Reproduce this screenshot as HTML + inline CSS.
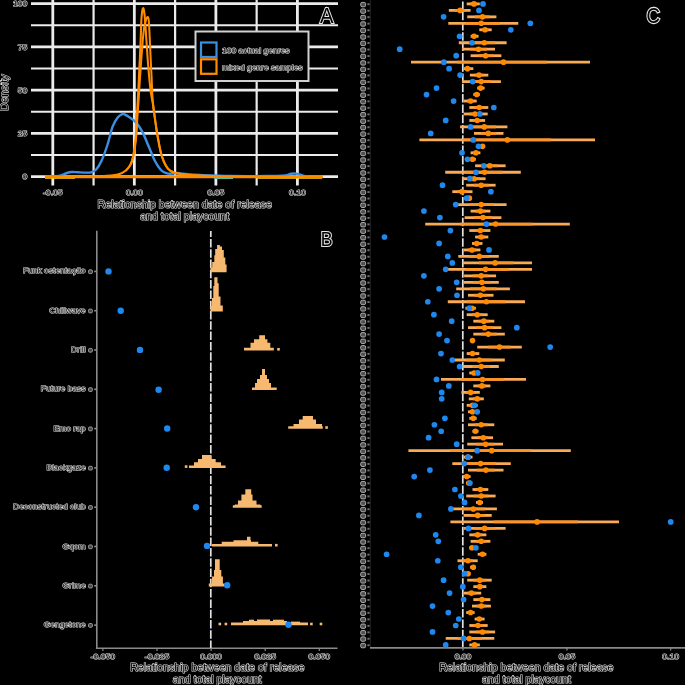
<!DOCTYPE html>
<html><head><meta charset="utf-8"><title>figure</title>
<style>
html,body{margin:0;padding:0;background:#000;width:685px;height:685px;overflow:hidden}
svg{display:block}
text{font-family:"Liberation Sans",sans-serif}
</style></head>
<body>
<svg width="685" height="685" viewBox="0 0 685 685">
<defs><filter id="gs" filterUnits="userSpaceOnUse" x="0" y="0" width="685" height="685"><feColorMatrix type="saturate" values="0"/></filter></defs>
<rect width="685" height="685" fill="#000"/>
<line x1="31" y1="3.60" x2="338" y2="3.60" stroke="#ebebeb" stroke-width="2.6"/>
<line x1="31" y1="25.23" x2="338" y2="25.23" stroke="#ebebeb" stroke-width="2.0"/>
<line x1="31" y1="46.85" x2="338" y2="46.85" stroke="#ebebeb" stroke-width="2.6"/>
<line x1="31" y1="68.47" x2="338" y2="68.47" stroke="#ebebeb" stroke-width="2.0"/>
<line x1="31" y1="90.10" x2="338" y2="90.10" stroke="#ebebeb" stroke-width="2.6"/>
<line x1="31" y1="111.72" x2="338" y2="111.72" stroke="#ebebeb" stroke-width="2.0"/>
<line x1="31" y1="133.35" x2="338" y2="133.35" stroke="#ebebeb" stroke-width="2.6"/>
<line x1="31" y1="154.97" x2="338" y2="154.97" stroke="#ebebeb" stroke-width="2.0"/>
<line x1="31" y1="176.60" x2="338" y2="176.60" stroke="#ebebeb" stroke-width="2.6"/>
<line x1="52.80" y1="-6" x2="52.80" y2="185.5" stroke="#ebebeb" stroke-width="2.8"/>
<line x1="93.57" y1="-6" x2="93.57" y2="185.5" stroke="#ebebeb" stroke-width="2.2"/>
<line x1="134.34" y1="-6" x2="134.34" y2="185.5" stroke="#ebebeb" stroke-width="2.8"/>
<line x1="175.11" y1="-6" x2="175.11" y2="185.5" stroke="#ebebeb" stroke-width="2.2"/>
<line x1="215.88" y1="-6" x2="215.88" y2="185.5" stroke="#ebebeb" stroke-width="2.8"/>
<line x1="256.65" y1="-6" x2="256.65" y2="185.5" stroke="#ebebeb" stroke-width="2.2"/>
<line x1="297.42" y1="-6" x2="297.42" y2="185.5" stroke="#ebebeb" stroke-width="2.8"/>
<path d="M45,178 L75,178 M258,178 L322,178" stroke="#f5d400" stroke-width="1.4" fill="none"/>
<path d="M214,178.3 L233,178.3" stroke="#20c8e0" stroke-width="1.4" fill="none"/>
<path d="M216,176.5 L228,176.5" stroke="#e03020" stroke-width="2.4" fill="none"/>
<path d="M45.2,176.9 L322.8,176.9" stroke="#ff8c00" stroke-width="2.6" fill="none"/>
<path d="M45.0,176.6 C46.8,176.5 53.2,176.5 56.0,176.2 C58.8,175.9 60.2,175.5 62.0,175.0 C63.8,174.5 65.4,173.5 67.0,173.0 C68.6,172.5 69.9,172.1 71.7,172.0 C73.5,171.9 75.8,172.2 78.0,172.3 C80.2,172.4 82.8,172.6 85.0,172.6 C87.2,172.6 89.1,172.8 91.0,172.3 C92.9,171.8 94.5,171.3 96.2,169.5 C97.9,167.7 99.4,165.4 101.3,161.3 C103.2,157.2 105.5,150.8 107.4,145.0 C109.3,139.2 110.9,131.2 112.6,126.6 C114.3,122.0 116.0,119.5 117.7,117.4 C119.4,115.3 121.4,114.5 122.5,114.0 C123.6,113.5 122.8,113.5 124.1,114.1 C125.4,114.7 128.1,116.3 130.2,117.8 C132.2,119.3 134.3,120.5 136.4,122.9 C138.5,125.3 140.4,128.2 142.5,132.1 C144.6,136.0 146.6,141.6 148.7,146.4 C150.8,151.2 152.8,156.9 154.8,160.8 C156.8,164.7 158.9,167.9 160.9,170.0 C162.9,172.1 165.2,172.8 167.1,173.4 C168.9,174.0 170.3,173.7 172.0,173.6 C173.7,173.5 175.1,172.9 177.3,173.0 C179.5,173.1 181.2,173.7 185.0,174.0 C188.8,174.3 192.5,174.7 200.0,175.0 C207.5,175.3 218.3,175.8 230.0,176.0 C241.7,176.2 260.8,176.1 270.0,176.0 C279.2,175.9 281.5,175.9 285.0,175.5 C288.5,175.1 289.2,174.1 291.0,173.8 C292.8,173.5 294.3,173.4 296.0,173.6 C297.7,173.8 299.3,174.4 301.0,174.8 C302.7,175.2 302.5,175.9 306.0,176.2 C309.5,176.5 319.3,176.5 322.0,176.6" stroke="#3d8fe0" stroke-width="2.4" fill="none" stroke-linejoin="round"/>
<path d="M125.8,170.8 C126.7,169.6 129.9,166.7 131.3,163.4 C132.7,160.1 133.6,155.7 134.4,151.1 C135.2,146.5 135.8,141.6 136.3,136.0 C136.8,130.4 137.0,123.8 137.4,117.8 C137.8,111.8 138.2,106.6 138.6,100.0 C139.0,93.4 139.5,85.0 140.0,78.0 C140.5,71.0 140.9,64.3 141.4,58.0 C141.9,51.7 142.4,45.0 142.8,40.0 C143.2,35.0 143.7,31.0 144.1,28.0 C144.5,25.0 144.9,23.6 145.3,22.0 C145.7,20.4 146.2,19.4 146.5,18.6 C146.8,17.8 147.1,17.4 147.4,17.2 C147.7,17.0 147.9,16.7 148.1,17.3 C148.3,17.9 148.6,18.1 148.8,21.0 C149.1,23.9 149.3,29.3 149.6,35.0 C149.9,40.7 150.2,48.3 150.5,55.0 C150.8,61.7 151.1,67.5 151.5,75.0 C151.9,82.5 152.1,92.9 152.7,100.0 C153.2,107.1 153.9,111.4 154.8,117.8 C155.7,124.2 156.7,131.7 157.9,138.2 C159.1,144.7 160.3,151.6 162.0,156.7 C163.7,161.8 165.9,166.2 168.1,168.9 C170.3,171.6 171.7,172.0 175.3,173.0 C178.9,174.0 182.2,174.4 189.6,175.0 C197.0,175.6 214.9,176.1 220.0,176.3" stroke="#ff8c00" stroke-width="2.0" fill="none" stroke-linejoin="round"/>
<path d="M45.2,176.6 C51.0,176.6 70.7,176.6 80.0,176.5 C89.3,176.4 95.0,176.5 101.3,176.2 C107.6,175.9 113.6,175.5 117.7,174.6 C121.8,173.7 123.6,172.4 125.8,170.5 C128.0,168.6 129.6,166.6 131.0,163.4 C132.4,160.2 133.2,155.7 134.0,151.1 C134.8,146.5 135.3,141.6 135.8,136.0 C136.3,130.4 136.5,123.8 136.8,117.8 C137.1,111.8 137.5,106.6 137.8,100.0 C138.2,93.4 138.6,84.9 138.9,78.0 C139.2,71.1 139.6,65.4 139.9,58.4 C140.2,51.4 140.5,42.7 140.8,36.0 C141.1,29.3 141.2,22.2 141.5,18.0 C141.8,13.8 142.1,12.1 142.3,10.5 C142.6,8.9 142.7,8.3 143.0,8.2 C143.3,8.1 143.6,8.7 143.9,10.0 C144.2,11.3 144.4,13.5 144.7,16.0 C144.9,18.5 145.1,20.8 145.4,24.8 C145.7,28.8 146.0,34.5 146.4,40.0 C146.8,45.5 147.2,52.2 147.6,58.0 C148.0,63.8 148.5,69.3 149.0,75.0 C149.5,80.7 150.2,87.2 150.8,92.0 C151.5,96.8 152.2,99.5 152.9,104.0 C153.6,108.5 154.2,113.3 155.0,119.0 C155.8,124.7 156.8,131.9 158.0,138.2 C159.2,144.5 160.3,151.6 162.0,156.7 C163.7,161.8 165.9,166.2 168.1,168.9 C170.3,171.6 171.7,172.0 175.3,173.0 C178.9,174.0 182.2,174.4 189.6,175.0 C197.0,175.6 197.8,176.0 220.0,176.3 C242.2,176.6 305.7,176.6 322.8,176.6" stroke="#ff8c00" stroke-width="2.1" fill="none" stroke-linejoin="round"/>
<rect x="195.5" y="31.5" width="113" height="49.5" fill="#000" stroke="#d0d0d0" stroke-width="2"/>
<rect x="201" y="42.5" width="15.5" height="14.5" fill="#000" stroke="#3d8fe0" stroke-width="2.2"/>
<rect x="201" y="59.3" width="15.5" height="14.5" fill="#000" stroke="#ff8c00" stroke-width="2.2"/>
<line x1="96.8" y1="230.8" x2="96.8" y2="648.8" stroke="#8a8a8a" stroke-width="1.6"/>
<line x1="96" y1="648.2" x2="337.5" y2="648.2" stroke="#8a8a8a" stroke-width="1.6"/>
<line x1="210.8" y1="231" x2="210.8" y2="648" stroke="#e0e0e0" stroke-width="1.7" stroke-dasharray="8.5 1.8" stroke-dashoffset="2.4"/>
<rect x="88.5" y="269.8" width="3.9" height="3.8" rx="1.2" fill="#484848" stroke="#b0b0b0" stroke-width="0.8"/>
<line x1="94.2" y1="271.4" x2="96.8" y2="271.4" stroke="#8a8a8a" stroke-width="1.6"/>
<rect x="88.5" y="309.1" width="3.9" height="3.8" rx="1.2" fill="#484848" stroke="#b0b0b0" stroke-width="0.8"/>
<line x1="94.2" y1="310.7" x2="96.8" y2="310.7" stroke="#8a8a8a" stroke-width="1.6"/>
<rect x="88.5" y="348.4" width="3.9" height="3.8" rx="1.2" fill="#484848" stroke="#b0b0b0" stroke-width="0.8"/>
<line x1="94.2" y1="350.0" x2="96.8" y2="350.0" stroke="#8a8a8a" stroke-width="1.6"/>
<rect x="88.5" y="387.7" width="3.9" height="3.8" rx="1.2" fill="#484848" stroke="#b0b0b0" stroke-width="0.8"/>
<line x1="94.2" y1="389.3" x2="96.8" y2="389.3" stroke="#8a8a8a" stroke-width="1.6"/>
<rect x="88.5" y="427.0" width="3.9" height="3.8" rx="1.2" fill="#484848" stroke="#b0b0b0" stroke-width="0.8"/>
<line x1="94.2" y1="428.6" x2="96.8" y2="428.6" stroke="#8a8a8a" stroke-width="1.6"/>
<rect x="88.5" y="466.3" width="3.9" height="3.8" rx="1.2" fill="#484848" stroke="#b0b0b0" stroke-width="0.8"/>
<line x1="94.2" y1="467.9" x2="96.8" y2="467.9" stroke="#8a8a8a" stroke-width="1.6"/>
<rect x="88.5" y="505.6" width="3.9" height="3.8" rx="1.2" fill="#484848" stroke="#b0b0b0" stroke-width="0.8"/>
<line x1="94.2" y1="507.2" x2="96.8" y2="507.2" stroke="#8a8a8a" stroke-width="1.6"/>
<rect x="88.5" y="544.9" width="3.9" height="3.8" rx="1.2" fill="#484848" stroke="#b0b0b0" stroke-width="0.8"/>
<line x1="94.2" y1="546.5" x2="96.8" y2="546.5" stroke="#8a8a8a" stroke-width="1.6"/>
<rect x="88.5" y="584.2" width="3.9" height="3.8" rx="1.2" fill="#484848" stroke="#b0b0b0" stroke-width="0.8"/>
<line x1="94.2" y1="585.8" x2="96.8" y2="585.8" stroke="#8a8a8a" stroke-width="1.6"/>
<rect x="88.5" y="623.5" width="3.9" height="3.8" rx="1.2" fill="#484848" stroke="#b0b0b0" stroke-width="0.8"/>
<line x1="94.2" y1="625.1" x2="96.8" y2="625.1" stroke="#8a8a8a" stroke-width="1.6"/>
<line x1="102.9" y1="648.2" x2="102.9" y2="651" stroke="#8a8a8a" stroke-width="1.2"/>
<line x1="157.0" y1="648.2" x2="157.0" y2="651" stroke="#8a8a8a" stroke-width="1.2"/>
<line x1="211.1" y1="648.2" x2="211.1" y2="651" stroke="#8a8a8a" stroke-width="1.2"/>
<line x1="265.2" y1="648.2" x2="265.2" y2="651" stroke="#8a8a8a" stroke-width="1.2"/>
<line x1="319.3" y1="648.2" x2="319.3" y2="651" stroke="#8a8a8a" stroke-width="1.2"/>
<polygon points="210.5,272.3 210.5,267.6 212.2,267.6 212.2,264.5 212.2,264.5 212.2,262.0 214.3,262.0 214.3,257.4 214.3,257.4 214.3,255.3 215.2,255.3 215.2,250.0 215.2,250.0 215.2,248.9 217.1,248.9 217.1,246.4 217.1,246.4 217.1,245.1 219.9,245.1 219.9,246.4 222.0,246.4 222.0,248.9 222.0,248.9 222.0,250.0 223.8,250.0 223.8,255.3 223.8,255.3 223.8,257.4 225.3,257.4 225.3,262.0 225.3,262.0 225.3,264.5 226.6,264.5 226.6,267.6 226.6,267.6 226.6,272.3" fill="#f7b870"/>
<polygon points="210.4,311.6 210.4,306.0 212.0,306.0 212.0,305.4 212.0,305.4 212.0,298.1 213.3,298.1 213.3,296.6 213.3,296.6 213.3,286.1 214.3,286.1 214.3,283.2 214.3,283.2 214.3,277.3 217.5,277.3 217.5,283.2 218.7,283.2 218.7,286.1 218.7,286.1 218.7,296.6 220.5,296.6 220.5,298.1 220.5,298.1 220.5,305.4 222.8,305.4 222.8,306.0 222.8,306.0 222.8,311.6" fill="#f7b870"/>
<polygon points="244.0,350.6 244.0,347.8 250.5,347.8 250.5,342.8 254.0,342.8 254.0,339.3 259.2,339.3 259.2,335.2 265.0,335.2 265.0,339.3 267.4,339.3 267.4,342.8 270.3,342.8 270.3,347.8 273.8,347.8 273.8,350.6" fill="#f7b870"/>
<polygon points="252.0,389.9 252.0,387.5 255.0,387.5 255.0,383.1 257.0,383.1 257.0,379.0 260.0,379.0 260.0,374.9 262.0,374.9 262.0,369.1 265.0,369.1 265.0,374.9 267.0,374.9 267.0,379.0 269.0,379.0 269.0,383.1 271.0,383.1 271.0,387.5 276.7,387.5 276.7,389.9" fill="#f7b870"/>
<polygon points="288.2,428.8 288.2,426.2 293.5,426.2 293.5,424.0 299.0,424.0 299.0,419.4 302.7,419.4 302.7,416.0 313.0,416.0 313.0,419.4 316.0,419.4 316.0,424.0 322.0,424.0 322.0,426.2 322.8,426.2 322.8,428.8" fill="#f7b870"/>
<polygon points="189.0,467.9 189.0,465.4 194.0,465.4 194.0,462.3 198.0,462.3 198.0,459.0 202.0,459.0 202.0,455.1 211.0,455.1 211.0,459.0 215.7,459.0 215.7,462.3 221.0,462.3 221.0,465.4 225.6,465.4 225.6,467.9" fill="#f7b870"/>
<polygon points="232.8,507.7 232.8,505.2 234.8,505.2 234.8,504.4 238.0,504.4 238.0,500.4 241.4,500.4 241.4,494.5 245.3,494.5 245.3,489.3 251.2,489.3 251.2,494.5 252.5,494.5 252.5,500.4 256.5,500.4 256.5,504.4 260.4,504.4 260.4,505.2 261.7,505.2 261.7,507.7" fill="#f7b870"/>
<polygon points="211.8,546.4 211.8,543.9 221.7,543.9 221.7,541.8 233.5,541.8 233.5,540.2 247.0,540.2 247.0,536.8 250.5,536.8 250.5,540.2 251.0,540.2 251.0,541.8 258.3,541.8 258.3,543.9 272.0,543.9 272.0,546.4" fill="#f7b870"/>
<polygon points="208.8,586.4 208.8,583.5 212.0,583.5 212.0,576.5 214.0,576.5 214.0,570.0 215.0,570.0 215.0,559.2 219.7,559.2 219.7,570.0 221.3,570.0 221.3,576.5 222.9,576.5 222.9,583.5 224.6,583.5 224.6,586.4" fill="#f7b870"/>
<polygon points="231.0,625.2 231.0,622.6 308.0,622.6 308.0,625.2" fill="#f7b870"/>
<rect x="243" y="621.0" width="44" height="2.0" fill="#f7b870"/>
<rect x="249" y="619.7" width="5" height="1.7999999999999545" fill="#f7b870"/>
<rect x="257" y="619.5" width="13" height="2.0" fill="#f7b870"/>
<rect x="273" y="619.7" width="11" height="1.7999999999999545" fill="#f7b870"/>
<rect x="291" y="621.6" width="9" height="1.3999999999999773" fill="#f7b870"/>
<rect x="325.3" y="426.2" width="2.6" height="2.6" fill="#f7b870"/>
<rect x="184.8" y="465.3" width="2.6" height="2.6" fill="#f7b870"/>
<rect x="275.0" y="543.9" width="2.6" height="2.6" fill="#f7b870"/>
<rect x="218.5" y="622.7" width="2.6" height="2.6" fill="#f7b870"/>
<rect x="224.6" y="622.7" width="2.6" height="2.6" fill="#f7b870"/>
<rect x="310.1" y="622.7" width="2.6" height="2.6" fill="#f7b870"/>
<rect x="319.7" y="622.7" width="2.6" height="2.6" fill="#f7b870"/>
<rect x="277.2" y="348.0" width="2.6" height="2.6" fill="#f7b870"/>
<circle cx="108.5" cy="271.4" r="3.2" fill="#1f88ee"/>
<circle cx="120.7" cy="310.8" r="3.2" fill="#1f88ee"/>
<circle cx="140" cy="349.9" r="3.2" fill="#1f88ee"/>
<circle cx="158.6" cy="389.7" r="3.2" fill="#1f88ee"/>
<circle cx="167.2" cy="428.5" r="3.2" fill="#1f88ee"/>
<circle cx="166.7" cy="467.7" r="3.2" fill="#1f88ee"/>
<circle cx="196" cy="507.3" r="3.2" fill="#1f88ee"/>
<circle cx="207" cy="545.9" r="3.2" fill="#1f88ee"/>
<circle cx="227.2" cy="585.3" r="3.2" fill="#1f88ee"/>
<circle cx="288.5" cy="624.8" r="3.2" fill="#1f88ee"/>
<line x1="370.3" y1="-2" x2="370.3" y2="648.5" stroke="#262626" stroke-width="1"/>
<line x1="370" y1="647.8" x2="685" y2="647.8" stroke="#8a8a8a" stroke-width="1.8"/>
<line x1="462.8" y1="-2" x2="462.8" y2="647" stroke="#e0e0e0" stroke-width="1.7" stroke-dasharray="8.5 1.8" stroke-dashoffset="6.9"/>
<rect x="360.7" y="2.4" width="4.9" height="4.4" rx="1.4" fill="#505050" stroke="#b8b8b8" stroke-width="0.9"/>
<rect x="367.4" y="3.3" width="2.2" height="1.9" fill="#707070"/>
<rect x="360.7" y="8.9" width="4.9" height="4.4" rx="1.4" fill="#505050" stroke="#b8b8b8" stroke-width="0.9"/>
<rect x="367.4" y="9.8" width="2.2" height="1.9" fill="#707070"/>
<rect x="360.7" y="15.3" width="4.9" height="4.4" rx="1.4" fill="#505050" stroke="#b8b8b8" stroke-width="0.9"/>
<rect x="367.4" y="16.2" width="2.2" height="1.9" fill="#707070"/>
<rect x="360.7" y="21.8" width="4.9" height="4.4" rx="1.4" fill="#505050" stroke="#b8b8b8" stroke-width="0.9"/>
<rect x="367.4" y="22.7" width="2.2" height="1.9" fill="#707070"/>
<rect x="360.7" y="28.3" width="4.9" height="4.4" rx="1.4" fill="#505050" stroke="#b8b8b8" stroke-width="0.9"/>
<rect x="367.4" y="29.2" width="2.2" height="1.9" fill="#707070"/>
<rect x="360.7" y="34.8" width="4.9" height="4.4" rx="1.4" fill="#505050" stroke="#b8b8b8" stroke-width="0.9"/>
<rect x="367.4" y="35.7" width="2.2" height="1.9" fill="#707070"/>
<rect x="360.7" y="41.2" width="4.9" height="4.4" rx="1.4" fill="#505050" stroke="#b8b8b8" stroke-width="0.9"/>
<rect x="367.4" y="42.1" width="2.2" height="1.9" fill="#707070"/>
<rect x="360.7" y="47.7" width="4.9" height="4.4" rx="1.4" fill="#505050" stroke="#b8b8b8" stroke-width="0.9"/>
<rect x="367.4" y="48.6" width="2.2" height="1.9" fill="#707070"/>
<rect x="360.7" y="54.2" width="4.9" height="4.4" rx="1.4" fill="#505050" stroke="#b8b8b8" stroke-width="0.9"/>
<rect x="367.4" y="55.1" width="2.2" height="1.9" fill="#707070"/>
<rect x="360.7" y="60.7" width="4.9" height="4.4" rx="1.4" fill="#505050" stroke="#b8b8b8" stroke-width="0.9"/>
<rect x="367.4" y="61.6" width="2.2" height="1.9" fill="#707070"/>
<rect x="360.7" y="67.2" width="4.9" height="4.4" rx="1.4" fill="#505050" stroke="#b8b8b8" stroke-width="0.9"/>
<rect x="367.4" y="68.1" width="2.2" height="1.9" fill="#707070"/>
<rect x="360.7" y="73.6" width="4.9" height="4.4" rx="1.4" fill="#505050" stroke="#b8b8b8" stroke-width="0.9"/>
<rect x="367.4" y="74.5" width="2.2" height="1.9" fill="#707070"/>
<rect x="360.7" y="80.1" width="4.9" height="4.4" rx="1.4" fill="#505050" stroke="#b8b8b8" stroke-width="0.9"/>
<rect x="367.4" y="81.0" width="2.2" height="1.9" fill="#707070"/>
<rect x="360.7" y="86.6" width="4.9" height="4.4" rx="1.4" fill="#505050" stroke="#b8b8b8" stroke-width="0.9"/>
<rect x="367.4" y="87.5" width="2.2" height="1.9" fill="#707070"/>
<rect x="360.7" y="93.0" width="4.9" height="4.4" rx="1.4" fill="#505050" stroke="#b8b8b8" stroke-width="0.9"/>
<rect x="367.4" y="94.0" width="2.2" height="1.9" fill="#707070"/>
<rect x="360.7" y="99.5" width="4.9" height="4.4" rx="1.4" fill="#505050" stroke="#b8b8b8" stroke-width="0.9"/>
<rect x="367.4" y="100.4" width="2.2" height="1.9" fill="#707070"/>
<rect x="360.7" y="106.0" width="4.9" height="4.4" rx="1.4" fill="#505050" stroke="#b8b8b8" stroke-width="0.9"/>
<rect x="367.4" y="106.9" width="2.2" height="1.9" fill="#707070"/>
<rect x="360.7" y="112.5" width="4.9" height="4.4" rx="1.4" fill="#505050" stroke="#b8b8b8" stroke-width="0.9"/>
<rect x="367.4" y="113.4" width="2.2" height="1.9" fill="#707070"/>
<rect x="360.7" y="119.0" width="4.9" height="4.4" rx="1.4" fill="#505050" stroke="#b8b8b8" stroke-width="0.9"/>
<rect x="367.4" y="119.9" width="2.2" height="1.9" fill="#707070"/>
<rect x="360.7" y="125.4" width="4.9" height="4.4" rx="1.4" fill="#505050" stroke="#b8b8b8" stroke-width="0.9"/>
<rect x="367.4" y="126.3" width="2.2" height="1.9" fill="#707070"/>
<rect x="360.7" y="131.9" width="4.9" height="4.4" rx="1.4" fill="#505050" stroke="#b8b8b8" stroke-width="0.9"/>
<rect x="367.4" y="132.8" width="2.2" height="1.9" fill="#707070"/>
<rect x="360.7" y="138.4" width="4.9" height="4.4" rx="1.4" fill="#505050" stroke="#b8b8b8" stroke-width="0.9"/>
<rect x="367.4" y="139.3" width="2.2" height="1.9" fill="#707070"/>
<rect x="360.7" y="144.8" width="4.9" height="4.4" rx="1.4" fill="#505050" stroke="#b8b8b8" stroke-width="0.9"/>
<rect x="367.4" y="145.8" width="2.2" height="1.9" fill="#707070"/>
<rect x="360.7" y="151.3" width="4.9" height="4.4" rx="1.4" fill="#505050" stroke="#b8b8b8" stroke-width="0.9"/>
<rect x="367.4" y="152.2" width="2.2" height="1.9" fill="#707070"/>
<rect x="360.7" y="157.8" width="4.9" height="4.4" rx="1.4" fill="#505050" stroke="#b8b8b8" stroke-width="0.9"/>
<rect x="367.4" y="158.7" width="2.2" height="1.9" fill="#707070"/>
<rect x="360.7" y="164.3" width="4.9" height="4.4" rx="1.4" fill="#505050" stroke="#b8b8b8" stroke-width="0.9"/>
<rect x="367.4" y="165.2" width="2.2" height="1.9" fill="#707070"/>
<rect x="360.7" y="170.8" width="4.9" height="4.4" rx="1.4" fill="#505050" stroke="#b8b8b8" stroke-width="0.9"/>
<rect x="367.4" y="171.7" width="2.2" height="1.9" fill="#707070"/>
<rect x="360.7" y="177.2" width="4.9" height="4.4" rx="1.4" fill="#505050" stroke="#b8b8b8" stroke-width="0.9"/>
<rect x="367.4" y="178.1" width="2.2" height="1.9" fill="#707070"/>
<rect x="360.7" y="183.7" width="4.9" height="4.4" rx="1.4" fill="#505050" stroke="#b8b8b8" stroke-width="0.9"/>
<rect x="367.4" y="184.6" width="2.2" height="1.9" fill="#707070"/>
<rect x="360.7" y="190.2" width="4.9" height="4.4" rx="1.4" fill="#505050" stroke="#b8b8b8" stroke-width="0.9"/>
<rect x="367.4" y="191.1" width="2.2" height="1.9" fill="#707070"/>
<rect x="360.7" y="196.7" width="4.9" height="4.4" rx="1.4" fill="#505050" stroke="#b8b8b8" stroke-width="0.9"/>
<rect x="367.4" y="197.6" width="2.2" height="1.9" fill="#707070"/>
<rect x="360.7" y="203.1" width="4.9" height="4.4" rx="1.4" fill="#505050" stroke="#b8b8b8" stroke-width="0.9"/>
<rect x="367.4" y="204.0" width="2.2" height="1.9" fill="#707070"/>
<rect x="360.7" y="209.6" width="4.9" height="4.4" rx="1.4" fill="#505050" stroke="#b8b8b8" stroke-width="0.9"/>
<rect x="367.4" y="210.5" width="2.2" height="1.9" fill="#707070"/>
<rect x="360.7" y="216.1" width="4.9" height="4.4" rx="1.4" fill="#505050" stroke="#b8b8b8" stroke-width="0.9"/>
<rect x="367.4" y="217.0" width="2.2" height="1.9" fill="#707070"/>
<rect x="360.7" y="222.5" width="4.9" height="4.4" rx="1.4" fill="#505050" stroke="#b8b8b8" stroke-width="0.9"/>
<rect x="367.4" y="223.4" width="2.2" height="1.9" fill="#707070"/>
<rect x="360.7" y="229.0" width="4.9" height="4.4" rx="1.4" fill="#505050" stroke="#b8b8b8" stroke-width="0.9"/>
<rect x="367.4" y="229.9" width="2.2" height="1.9" fill="#707070"/>
<rect x="360.7" y="235.5" width="4.9" height="4.4" rx="1.4" fill="#505050" stroke="#b8b8b8" stroke-width="0.9"/>
<rect x="367.4" y="236.4" width="2.2" height="1.9" fill="#707070"/>
<rect x="360.7" y="242.0" width="4.9" height="4.4" rx="1.4" fill="#505050" stroke="#b8b8b8" stroke-width="0.9"/>
<rect x="367.4" y="242.9" width="2.2" height="1.9" fill="#707070"/>
<rect x="360.7" y="248.4" width="4.9" height="4.4" rx="1.4" fill="#505050" stroke="#b8b8b8" stroke-width="0.9"/>
<rect x="367.4" y="249.3" width="2.2" height="1.9" fill="#707070"/>
<rect x="360.7" y="254.9" width="4.9" height="4.4" rx="1.4" fill="#505050" stroke="#b8b8b8" stroke-width="0.9"/>
<rect x="367.4" y="255.8" width="2.2" height="1.9" fill="#707070"/>
<rect x="360.7" y="261.4" width="4.9" height="4.4" rx="1.4" fill="#505050" stroke="#b8b8b8" stroke-width="0.9"/>
<rect x="367.4" y="262.3" width="2.2" height="1.9" fill="#707070"/>
<rect x="360.7" y="267.9" width="4.9" height="4.4" rx="1.4" fill="#505050" stroke="#b8b8b8" stroke-width="0.9"/>
<rect x="367.4" y="268.8" width="2.2" height="1.9" fill="#707070"/>
<rect x="360.7" y="274.3" width="4.9" height="4.4" rx="1.4" fill="#505050" stroke="#b8b8b8" stroke-width="0.9"/>
<rect x="367.4" y="275.2" width="2.2" height="1.9" fill="#707070"/>
<rect x="360.7" y="280.8" width="4.9" height="4.4" rx="1.4" fill="#505050" stroke="#b8b8b8" stroke-width="0.9"/>
<rect x="367.4" y="281.7" width="2.2" height="1.9" fill="#707070"/>
<rect x="360.7" y="287.3" width="4.9" height="4.4" rx="1.4" fill="#505050" stroke="#b8b8b8" stroke-width="0.9"/>
<rect x="367.4" y="288.2" width="2.2" height="1.9" fill="#707070"/>
<rect x="360.7" y="293.8" width="4.9" height="4.4" rx="1.4" fill="#505050" stroke="#b8b8b8" stroke-width="0.9"/>
<rect x="367.4" y="294.7" width="2.2" height="1.9" fill="#707070"/>
<rect x="360.7" y="300.2" width="4.9" height="4.4" rx="1.4" fill="#505050" stroke="#b8b8b8" stroke-width="0.9"/>
<rect x="367.4" y="301.1" width="2.2" height="1.9" fill="#707070"/>
<rect x="360.7" y="306.7" width="4.9" height="4.4" rx="1.4" fill="#505050" stroke="#b8b8b8" stroke-width="0.9"/>
<rect x="367.4" y="307.6" width="2.2" height="1.9" fill="#707070"/>
<rect x="360.7" y="313.2" width="4.9" height="4.4" rx="1.4" fill="#505050" stroke="#b8b8b8" stroke-width="0.9"/>
<rect x="367.4" y="314.1" width="2.2" height="1.9" fill="#707070"/>
<rect x="360.7" y="319.7" width="4.9" height="4.4" rx="1.4" fill="#505050" stroke="#b8b8b8" stroke-width="0.9"/>
<rect x="367.4" y="320.6" width="2.2" height="1.9" fill="#707070"/>
<rect x="360.7" y="326.1" width="4.9" height="4.4" rx="1.4" fill="#505050" stroke="#b8b8b8" stroke-width="0.9"/>
<rect x="367.4" y="327.0" width="2.2" height="1.9" fill="#707070"/>
<rect x="360.7" y="332.6" width="4.9" height="4.4" rx="1.4" fill="#505050" stroke="#b8b8b8" stroke-width="0.9"/>
<rect x="367.4" y="333.5" width="2.2" height="1.9" fill="#707070"/>
<rect x="360.7" y="339.1" width="4.9" height="4.4" rx="1.4" fill="#505050" stroke="#b8b8b8" stroke-width="0.9"/>
<rect x="367.4" y="340.0" width="2.2" height="1.9" fill="#707070"/>
<rect x="360.7" y="345.6" width="4.9" height="4.4" rx="1.4" fill="#505050" stroke="#b8b8b8" stroke-width="0.9"/>
<rect x="367.4" y="346.5" width="2.2" height="1.9" fill="#707070"/>
<rect x="360.7" y="352.0" width="4.9" height="4.4" rx="1.4" fill="#505050" stroke="#b8b8b8" stroke-width="0.9"/>
<rect x="367.4" y="352.9" width="2.2" height="1.9" fill="#707070"/>
<rect x="360.7" y="358.5" width="4.9" height="4.4" rx="1.4" fill="#505050" stroke="#b8b8b8" stroke-width="0.9"/>
<rect x="367.4" y="359.4" width="2.2" height="1.9" fill="#707070"/>
<rect x="360.7" y="365.0" width="4.9" height="4.4" rx="1.4" fill="#505050" stroke="#b8b8b8" stroke-width="0.9"/>
<rect x="367.4" y="365.9" width="2.2" height="1.9" fill="#707070"/>
<rect x="360.7" y="371.5" width="4.9" height="4.4" rx="1.4" fill="#505050" stroke="#b8b8b8" stroke-width="0.9"/>
<rect x="367.4" y="372.4" width="2.2" height="1.9" fill="#707070"/>
<rect x="360.7" y="377.9" width="4.9" height="4.4" rx="1.4" fill="#505050" stroke="#b8b8b8" stroke-width="0.9"/>
<rect x="367.4" y="378.8" width="2.2" height="1.9" fill="#707070"/>
<rect x="360.7" y="384.4" width="4.9" height="4.4" rx="1.4" fill="#505050" stroke="#b8b8b8" stroke-width="0.9"/>
<rect x="367.4" y="385.3" width="2.2" height="1.9" fill="#707070"/>
<rect x="360.7" y="390.9" width="4.9" height="4.4" rx="1.4" fill="#505050" stroke="#b8b8b8" stroke-width="0.9"/>
<rect x="367.4" y="391.8" width="2.2" height="1.9" fill="#707070"/>
<rect x="360.7" y="397.4" width="4.9" height="4.4" rx="1.4" fill="#505050" stroke="#b8b8b8" stroke-width="0.9"/>
<rect x="367.4" y="398.3" width="2.2" height="1.9" fill="#707070"/>
<rect x="360.7" y="403.8" width="4.9" height="4.4" rx="1.4" fill="#505050" stroke="#b8b8b8" stroke-width="0.9"/>
<rect x="367.4" y="404.7" width="2.2" height="1.9" fill="#707070"/>
<rect x="360.7" y="410.3" width="4.9" height="4.4" rx="1.4" fill="#505050" stroke="#b8b8b8" stroke-width="0.9"/>
<rect x="367.4" y="411.2" width="2.2" height="1.9" fill="#707070"/>
<rect x="360.7" y="416.8" width="4.9" height="4.4" rx="1.4" fill="#505050" stroke="#b8b8b8" stroke-width="0.9"/>
<rect x="367.4" y="417.7" width="2.2" height="1.9" fill="#707070"/>
<rect x="360.7" y="423.3" width="4.9" height="4.4" rx="1.4" fill="#505050" stroke="#b8b8b8" stroke-width="0.9"/>
<rect x="367.4" y="424.2" width="2.2" height="1.9" fill="#707070"/>
<rect x="360.7" y="429.7" width="4.9" height="4.4" rx="1.4" fill="#505050" stroke="#b8b8b8" stroke-width="0.9"/>
<rect x="367.4" y="430.6" width="2.2" height="1.9" fill="#707070"/>
<rect x="360.7" y="436.2" width="4.9" height="4.4" rx="1.4" fill="#505050" stroke="#b8b8b8" stroke-width="0.9"/>
<rect x="367.4" y="437.1" width="2.2" height="1.9" fill="#707070"/>
<rect x="360.7" y="442.7" width="4.9" height="4.4" rx="1.4" fill="#505050" stroke="#b8b8b8" stroke-width="0.9"/>
<rect x="367.4" y="443.6" width="2.2" height="1.9" fill="#707070"/>
<rect x="360.7" y="449.2" width="4.9" height="4.4" rx="1.4" fill="#505050" stroke="#b8b8b8" stroke-width="0.9"/>
<rect x="367.4" y="450.1" width="2.2" height="1.9" fill="#707070"/>
<rect x="360.7" y="455.6" width="4.9" height="4.4" rx="1.4" fill="#505050" stroke="#b8b8b8" stroke-width="0.9"/>
<rect x="367.4" y="456.5" width="2.2" height="1.9" fill="#707070"/>
<rect x="360.7" y="462.1" width="4.9" height="4.4" rx="1.4" fill="#505050" stroke="#b8b8b8" stroke-width="0.9"/>
<rect x="367.4" y="463.0" width="2.2" height="1.9" fill="#707070"/>
<rect x="360.7" y="468.6" width="4.9" height="4.4" rx="1.4" fill="#505050" stroke="#b8b8b8" stroke-width="0.9"/>
<rect x="367.4" y="469.5" width="2.2" height="1.9" fill="#707070"/>
<rect x="360.7" y="475.1" width="4.9" height="4.4" rx="1.4" fill="#505050" stroke="#b8b8b8" stroke-width="0.9"/>
<rect x="367.4" y="476.0" width="2.2" height="1.9" fill="#707070"/>
<rect x="360.7" y="481.5" width="4.9" height="4.4" rx="1.4" fill="#505050" stroke="#b8b8b8" stroke-width="0.9"/>
<rect x="367.4" y="482.4" width="2.2" height="1.9" fill="#707070"/>
<rect x="360.7" y="488.0" width="4.9" height="4.4" rx="1.4" fill="#505050" stroke="#b8b8b8" stroke-width="0.9"/>
<rect x="367.4" y="488.9" width="2.2" height="1.9" fill="#707070"/>
<rect x="360.7" y="494.5" width="4.9" height="4.4" rx="1.4" fill="#505050" stroke="#b8b8b8" stroke-width="0.9"/>
<rect x="367.4" y="495.4" width="2.2" height="1.9" fill="#707070"/>
<rect x="360.7" y="501.0" width="4.9" height="4.4" rx="1.4" fill="#505050" stroke="#b8b8b8" stroke-width="0.9"/>
<rect x="367.4" y="501.9" width="2.2" height="1.9" fill="#707070"/>
<rect x="360.7" y="507.4" width="4.9" height="4.4" rx="1.4" fill="#505050" stroke="#b8b8b8" stroke-width="0.9"/>
<rect x="367.4" y="508.3" width="2.2" height="1.9" fill="#707070"/>
<rect x="360.7" y="513.9" width="4.9" height="4.4" rx="1.4" fill="#505050" stroke="#b8b8b8" stroke-width="0.9"/>
<rect x="367.4" y="514.8" width="2.2" height="1.9" fill="#707070"/>
<rect x="360.7" y="520.4" width="4.9" height="4.4" rx="1.4" fill="#505050" stroke="#b8b8b8" stroke-width="0.9"/>
<rect x="367.4" y="521.3" width="2.2" height="1.9" fill="#707070"/>
<rect x="360.7" y="526.9" width="4.9" height="4.4" rx="1.4" fill="#505050" stroke="#b8b8b8" stroke-width="0.9"/>
<rect x="367.4" y="527.8" width="2.2" height="1.9" fill="#707070"/>
<rect x="360.7" y="533.3" width="4.9" height="4.4" rx="1.4" fill="#505050" stroke="#b8b8b8" stroke-width="0.9"/>
<rect x="367.4" y="534.2" width="2.2" height="1.9" fill="#707070"/>
<rect x="360.7" y="539.8" width="4.9" height="4.4" rx="1.4" fill="#505050" stroke="#b8b8b8" stroke-width="0.9"/>
<rect x="367.4" y="540.7" width="2.2" height="1.9" fill="#707070"/>
<rect x="360.7" y="546.3" width="4.9" height="4.4" rx="1.4" fill="#505050" stroke="#b8b8b8" stroke-width="0.9"/>
<rect x="367.4" y="547.2" width="2.2" height="1.9" fill="#707070"/>
<rect x="360.7" y="552.8" width="4.9" height="4.4" rx="1.4" fill="#505050" stroke="#b8b8b8" stroke-width="0.9"/>
<rect x="367.4" y="553.7" width="2.2" height="1.9" fill="#707070"/>
<rect x="360.7" y="559.2" width="4.9" height="4.4" rx="1.4" fill="#505050" stroke="#b8b8b8" stroke-width="0.9"/>
<rect x="367.4" y="560.1" width="2.2" height="1.9" fill="#707070"/>
<rect x="360.7" y="565.7" width="4.9" height="4.4" rx="1.4" fill="#505050" stroke="#b8b8b8" stroke-width="0.9"/>
<rect x="367.4" y="566.6" width="2.2" height="1.9" fill="#707070"/>
<rect x="360.7" y="572.2" width="4.9" height="4.4" rx="1.4" fill="#505050" stroke="#b8b8b8" stroke-width="0.9"/>
<rect x="367.4" y="573.1" width="2.2" height="1.9" fill="#707070"/>
<rect x="360.7" y="578.7" width="4.9" height="4.4" rx="1.4" fill="#505050" stroke="#b8b8b8" stroke-width="0.9"/>
<rect x="367.4" y="579.6" width="2.2" height="1.9" fill="#707070"/>
<rect x="360.7" y="585.1" width="4.9" height="4.4" rx="1.4" fill="#505050" stroke="#b8b8b8" stroke-width="0.9"/>
<rect x="367.4" y="586.0" width="2.2" height="1.9" fill="#707070"/>
<rect x="360.7" y="591.6" width="4.9" height="4.4" rx="1.4" fill="#505050" stroke="#b8b8b8" stroke-width="0.9"/>
<rect x="367.4" y="592.5" width="2.2" height="1.9" fill="#707070"/>
<rect x="360.7" y="598.1" width="4.9" height="4.4" rx="1.4" fill="#505050" stroke="#b8b8b8" stroke-width="0.9"/>
<rect x="367.4" y="599.0" width="2.2" height="1.9" fill="#707070"/>
<rect x="360.7" y="604.6" width="4.9" height="4.4" rx="1.4" fill="#505050" stroke="#b8b8b8" stroke-width="0.9"/>
<rect x="367.4" y="605.5" width="2.2" height="1.9" fill="#707070"/>
<rect x="360.7" y="611.0" width="4.9" height="4.4" rx="1.4" fill="#505050" stroke="#b8b8b8" stroke-width="0.9"/>
<rect x="367.4" y="611.9" width="2.2" height="1.9" fill="#707070"/>
<rect x="360.7" y="617.5" width="4.9" height="4.4" rx="1.4" fill="#505050" stroke="#b8b8b8" stroke-width="0.9"/>
<rect x="367.4" y="618.4" width="2.2" height="1.9" fill="#707070"/>
<rect x="360.7" y="624.0" width="4.9" height="4.4" rx="1.4" fill="#505050" stroke="#b8b8b8" stroke-width="0.9"/>
<rect x="367.4" y="624.9" width="2.2" height="1.9" fill="#707070"/>
<rect x="360.7" y="630.5" width="4.9" height="4.4" rx="1.4" fill="#505050" stroke="#b8b8b8" stroke-width="0.9"/>
<rect x="367.4" y="631.4" width="2.2" height="1.9" fill="#707070"/>
<rect x="360.7" y="636.9" width="4.9" height="4.4" rx="1.4" fill="#505050" stroke="#b8b8b8" stroke-width="0.9"/>
<rect x="367.4" y="637.8" width="2.2" height="1.9" fill="#707070"/>
<rect x="360.7" y="643.4" width="4.9" height="4.4" rx="1.4" fill="#505050" stroke="#b8b8b8" stroke-width="0.9"/>
<rect x="367.4" y="644.3" width="2.2" height="1.9" fill="#707070"/>
<line x1="466.7" y1="3.90" x2="479.8" y2="3.90" stroke="#f9aa55" stroke-width="2.8"/>
<line x1="470.4" y1="3.90" x2="476.9" y2="3.90" stroke="#fc9426" stroke-width="2.8"/>
<circle cx="474" cy="3.90" r="2.8" fill="#ff8a00"/>
<line x1="448.8" y1="10.38" x2="470.6" y2="10.38" stroke="#f9aa55" stroke-width="2.8"/>
<line x1="454.5" y1="10.38" x2="465.4" y2="10.38" stroke="#fc9426" stroke-width="2.8"/>
<circle cx="460.1" cy="10.38" r="2.8" fill="#ff8a00"/>
<line x1="467.2" y1="16.85" x2="496.4" y2="16.85" stroke="#f9aa55" stroke-width="2.8"/>
<line x1="474.9" y1="16.85" x2="489.4" y2="16.85" stroke="#fc9426" stroke-width="2.8"/>
<circle cx="482.5" cy="16.85" r="2.8" fill="#ff8a00"/>
<line x1="448.3" y1="23.32" x2="518.3" y2="23.32" stroke="#f9aa55" stroke-width="2.8"/>
<line x1="464.8" y1="23.32" x2="499.8" y2="23.32" stroke="#fc9426" stroke-width="2.8"/>
<circle cx="481.2" cy="23.32" r="2.8" fill="#ff8a00"/>
<line x1="479.3" y1="29.80" x2="491.7" y2="29.80" stroke="#f9aa55" stroke-width="2.8"/>
<line x1="482.2" y1="29.80" x2="488.4" y2="29.80" stroke="#fc9426" stroke-width="2.8"/>
<circle cx="485.1" cy="29.80" r="2.8" fill="#ff8a00"/>
<line x1="470.6" y1="36.27" x2="478.5" y2="36.27" stroke="#f9aa55" stroke-width="2.8"/>
<line x1="472.3" y1="36.27" x2="476.2" y2="36.27" stroke="#fc9426" stroke-width="2.8"/>
<circle cx="474" cy="36.27" r="2.8" fill="#ff8a00"/>
<line x1="458.8" y1="42.75" x2="506.6" y2="42.75" stroke="#f9aa55" stroke-width="2.8"/>
<line x1="471.6" y1="42.75" x2="495.5" y2="42.75" stroke="#fc9426" stroke-width="2.8"/>
<circle cx="484.3" cy="42.75" r="2.8" fill="#ff8a00"/>
<line x1="462" y1="49.22" x2="495" y2="49.22" stroke="#f9aa55" stroke-width="2.8"/>
<line x1="470.2" y1="49.22" x2="486.8" y2="49.22" stroke="#fc9426" stroke-width="2.8"/>
<circle cx="478.5" cy="49.22" r="2.8" fill="#ff8a00"/>
<line x1="470.6" y1="55.70" x2="501.4" y2="55.70" stroke="#f9aa55" stroke-width="2.8"/>
<line x1="478.1" y1="55.70" x2="493.5" y2="55.70" stroke="#fc9426" stroke-width="2.8"/>
<circle cx="485.6" cy="55.70" r="2.8" fill="#ff8a00"/>
<line x1="411" y1="62.17" x2="590" y2="62.17" stroke="#f9aa55" stroke-width="2.8"/>
<line x1="457.2" y1="62.17" x2="546.8" y2="62.17" stroke="#fc9426" stroke-width="2.8"/>
<circle cx="503.5" cy="62.17" r="2.8" fill="#ff8a00"/>
<line x1="463.6" y1="68.65" x2="473.3" y2="68.65" stroke="#f9aa55" stroke-width="2.8"/>
<line x1="465.6" y1="68.65" x2="470.4" y2="68.65" stroke="#fc9426" stroke-width="2.8"/>
<circle cx="467.5" cy="68.65" r="2.8" fill="#ff8a00"/>
<line x1="469.9" y1="75.12" x2="488.3" y2="75.12" stroke="#f9aa55" stroke-width="2.8"/>
<line x1="474.4" y1="75.12" x2="483.6" y2="75.12" stroke="#fc9426" stroke-width="2.8"/>
<circle cx="479" cy="75.12" r="2.8" fill="#ff8a00"/>
<line x1="462" y1="81.60" x2="500.9" y2="81.60" stroke="#f9aa55" stroke-width="2.8"/>
<line x1="471.6" y1="81.60" x2="491.0" y2="81.60" stroke="#fc9426" stroke-width="2.8"/>
<circle cx="481.2" cy="81.60" r="2.8" fill="#ff8a00"/>
<line x1="477.2" y1="88.08" x2="484.6" y2="88.08" stroke="#f9aa55" stroke-width="2.8"/>
<line x1="478.9" y1="88.08" x2="482.6" y2="88.08" stroke="#fc9426" stroke-width="2.8"/>
<circle cx="480.6" cy="88.08" r="2.8" fill="#ff8a00"/>
<line x1="473.3" y1="94.55" x2="479.8" y2="94.55" stroke="#f9aa55" stroke-width="2.8"/>
<line x1="475.0" y1="94.55" x2="478.2" y2="94.55" stroke="#fc9426" stroke-width="2.8"/>
<circle cx="476.7" cy="94.55" r="2.8" fill="#ff8a00"/>
<line x1="463.6" y1="101.03" x2="476.7" y2="101.03" stroke="#f9aa55" stroke-width="2.8"/>
<line x1="467.1" y1="101.03" x2="473.6" y2="101.03" stroke="#fc9426" stroke-width="2.8"/>
<circle cx="470.6" cy="101.03" r="2.8" fill="#ff8a00"/>
<line x1="469.3" y1="107.50" x2="488.3" y2="107.50" stroke="#f9aa55" stroke-width="2.8"/>
<line x1="474.3" y1="107.50" x2="483.8" y2="107.50" stroke="#fc9426" stroke-width="2.8"/>
<circle cx="479.3" cy="107.50" r="2.8" fill="#ff8a00"/>
<line x1="463.6" y1="113.97" x2="487.7" y2="113.97" stroke="#f9aa55" stroke-width="2.8"/>
<line x1="469.4" y1="113.97" x2="481.4" y2="113.97" stroke="#fc9426" stroke-width="2.8"/>
<circle cx="475.1" cy="113.97" r="2.8" fill="#ff8a00"/>
<line x1="469.3" y1="120.45" x2="485.1" y2="120.45" stroke="#f9aa55" stroke-width="2.8"/>
<line x1="473.2" y1="120.45" x2="481.1" y2="120.45" stroke="#fc9426" stroke-width="2.8"/>
<circle cx="477.2" cy="120.45" r="2.8" fill="#ff8a00"/>
<line x1="460.1" y1="126.92" x2="507.4" y2="126.92" stroke="#f9aa55" stroke-width="2.8"/>
<line x1="472.2" y1="126.92" x2="495.9" y2="126.92" stroke="#fc9426" stroke-width="2.8"/>
<circle cx="484.3" cy="126.92" r="2.8" fill="#ff8a00"/>
<line x1="474" y1="133.40" x2="503.5" y2="133.40" stroke="#f9aa55" stroke-width="2.8"/>
<line x1="481.1" y1="133.40" x2="495.9" y2="133.40" stroke="#fc9426" stroke-width="2.8"/>
<circle cx="488.3" cy="133.40" r="2.8" fill="#ff8a00"/>
<line x1="419.4" y1="139.88" x2="595" y2="139.88" stroke="#f9aa55" stroke-width="2.8"/>
<line x1="463.4" y1="139.88" x2="551.2" y2="139.88" stroke="#fc9426" stroke-width="2.8"/>
<circle cx="507.4" cy="139.88" r="2.8" fill="#ff8a00"/>
<line x1="477.2" y1="146.35" x2="485.1" y2="146.35" stroke="#f9aa55" stroke-width="2.8"/>
<line x1="479.9" y1="146.35" x2="483.8" y2="146.35" stroke="#fc9426" stroke-width="2.8"/>
<circle cx="482.5" cy="146.35" r="2.8" fill="#ff8a00"/>
<line x1="470.6" y1="152.82" x2="480.4" y2="152.82" stroke="#f9aa55" stroke-width="2.8"/>
<line x1="473.2" y1="152.82" x2="478.1" y2="152.82" stroke="#fc9426" stroke-width="2.8"/>
<circle cx="475.9" cy="152.82" r="2.8" fill="#ff8a00"/>
<line x1="469.3" y1="159.30" x2="475.9" y2="159.30" stroke="#f9aa55" stroke-width="2.8"/>
<line x1="470.9" y1="159.30" x2="474.2" y2="159.30" stroke="#fc9426" stroke-width="2.8"/>
<circle cx="472.5" cy="159.30" r="2.8" fill="#ff8a00"/>
<line x1="475.1" y1="165.78" x2="505.6" y2="165.78" stroke="#f9aa55" stroke-width="2.8"/>
<line x1="482.5" y1="165.78" x2="497.7" y2="165.78" stroke="#fc9426" stroke-width="2.8"/>
<circle cx="489.8" cy="165.78" r="2.8" fill="#ff8a00"/>
<line x1="445.2" y1="172.25" x2="520.8" y2="172.25" stroke="#f9aa55" stroke-width="2.8"/>
<line x1="464.9" y1="172.25" x2="502.7" y2="172.25" stroke="#fc9426" stroke-width="2.8"/>
<circle cx="484.6" cy="172.25" r="2.8" fill="#ff8a00"/>
<line x1="462" y1="178.72" x2="485.6" y2="178.72" stroke="#f9aa55" stroke-width="2.8"/>
<line x1="468.1" y1="178.72" x2="479.9" y2="178.72" stroke="#fc9426" stroke-width="2.8"/>
<circle cx="474.1" cy="178.72" r="2.8" fill="#ff8a00"/>
<line x1="466.2" y1="185.20" x2="495.6" y2="185.20" stroke="#f9aa55" stroke-width="2.8"/>
<line x1="473.7" y1="185.20" x2="488.4" y2="185.20" stroke="#fc9426" stroke-width="2.8"/>
<circle cx="481.2" cy="185.20" r="2.8" fill="#ff8a00"/>
<line x1="452.3" y1="191.67" x2="472.5" y2="191.67" stroke="#f9aa55" stroke-width="2.8"/>
<line x1="457.1" y1="191.67" x2="467.2" y2="191.67" stroke="#fc9426" stroke-width="2.8"/>
<circle cx="462" cy="191.67" r="2.8" fill="#ff8a00"/>
<line x1="465.4" y1="198.15" x2="472" y2="198.15" stroke="#f9aa55" stroke-width="2.8"/>
<line x1="467.4" y1="198.15" x2="470.6" y2="198.15" stroke="#fc9426" stroke-width="2.8"/>
<circle cx="469.3" cy="198.15" r="2.8" fill="#ff8a00"/>
<line x1="457.5" y1="204.62" x2="506.6" y2="204.62" stroke="#f9aa55" stroke-width="2.8"/>
<line x1="469.4" y1="204.62" x2="493.9" y2="204.62" stroke="#fc9426" stroke-width="2.8"/>
<circle cx="481.2" cy="204.62" r="2.8" fill="#ff8a00"/>
<line x1="470.6" y1="211.10" x2="490.4" y2="211.10" stroke="#f9aa55" stroke-width="2.8"/>
<line x1="475.5" y1="211.10" x2="485.4" y2="211.10" stroke="#fc9426" stroke-width="2.8"/>
<circle cx="480.4" cy="211.10" r="2.8" fill="#ff8a00"/>
<line x1="464.6" y1="217.57" x2="501.4" y2="217.57" stroke="#f9aa55" stroke-width="2.8"/>
<line x1="473.8" y1="217.57" x2="492.2" y2="217.57" stroke="#fc9426" stroke-width="2.8"/>
<circle cx="483" cy="217.57" r="2.8" fill="#ff8a00"/>
<line x1="425.2" y1="224.05" x2="569.8" y2="224.05" stroke="#f9aa55" stroke-width="2.8"/>
<line x1="460.4" y1="224.05" x2="532.7" y2="224.05" stroke="#fc9426" stroke-width="2.8"/>
<circle cx="495.6" cy="224.05" r="2.8" fill="#ff8a00"/>
<line x1="469.3" y1="230.53" x2="490.4" y2="230.53" stroke="#f9aa55" stroke-width="2.8"/>
<line x1="474.9" y1="230.53" x2="485.4" y2="230.53" stroke="#fc9426" stroke-width="2.8"/>
<circle cx="480.4" cy="230.53" r="2.8" fill="#ff8a00"/>
<line x1="475.1" y1="237.00" x2="488.3" y2="237.00" stroke="#f9aa55" stroke-width="2.8"/>
<line x1="478.1" y1="237.00" x2="484.8" y2="237.00" stroke="#fc9426" stroke-width="2.8"/>
<circle cx="481.2" cy="237.00" r="2.8" fill="#ff8a00"/>
<line x1="472" y1="243.47" x2="482.5" y2="243.47" stroke="#f9aa55" stroke-width="2.8"/>
<line x1="474.4" y1="243.47" x2="479.6" y2="243.47" stroke="#fc9426" stroke-width="2.8"/>
<circle cx="476.7" cy="243.47" r="2.8" fill="#ff8a00"/>
<line x1="463.6" y1="249.95" x2="480.4" y2="249.95" stroke="#f9aa55" stroke-width="2.8"/>
<line x1="467.8" y1="249.95" x2="476.2" y2="249.95" stroke="#fc9426" stroke-width="2.8"/>
<circle cx="472" cy="249.95" r="2.8" fill="#ff8a00"/>
<line x1="458.3" y1="256.42" x2="498.8" y2="256.42" stroke="#f9aa55" stroke-width="2.8"/>
<line x1="468.8" y1="256.42" x2="489.1" y2="256.42" stroke="#fc9426" stroke-width="2.8"/>
<circle cx="479.3" cy="256.42" r="2.8" fill="#ff8a00"/>
<line x1="462.8" y1="262.90" x2="532" y2="262.90" stroke="#f9aa55" stroke-width="2.8"/>
<line x1="479.0" y1="262.90" x2="513.5" y2="262.90" stroke="#fc9426" stroke-width="2.8"/>
<circle cx="495.1" cy="262.90" r="2.8" fill="#ff8a00"/>
<line x1="445.2" y1="269.37" x2="532" y2="269.37" stroke="#f9aa55" stroke-width="2.8"/>
<line x1="465.4" y1="269.37" x2="508.8" y2="269.37" stroke="#fc9426" stroke-width="2.8"/>
<circle cx="485.6" cy="269.37" r="2.8" fill="#ff8a00"/>
<line x1="464.1" y1="275.85" x2="496.1" y2="275.85" stroke="#f9aa55" stroke-width="2.8"/>
<line x1="472.6" y1="275.85" x2="488.6" y2="275.85" stroke="#fc9426" stroke-width="2.8"/>
<circle cx="481.2" cy="275.85" r="2.8" fill="#ff8a00"/>
<line x1="463.6" y1="282.32" x2="498.8" y2="282.32" stroke="#f9aa55" stroke-width="2.8"/>
<line x1="472.8" y1="282.32" x2="490.4" y2="282.32" stroke="#fc9426" stroke-width="2.8"/>
<circle cx="481.9" cy="282.32" r="2.8" fill="#ff8a00"/>
<line x1="456.2" y1="288.80" x2="509.9" y2="288.80" stroke="#f9aa55" stroke-width="2.8"/>
<line x1="469.8" y1="288.80" x2="496.6" y2="288.80" stroke="#fc9426" stroke-width="2.8"/>
<circle cx="483.3" cy="288.80" r="2.8" fill="#ff8a00"/>
<line x1="468" y1="295.27" x2="493.5" y2="295.27" stroke="#f9aa55" stroke-width="2.8"/>
<line x1="474.2" y1="295.27" x2="486.9" y2="295.27" stroke="#fc9426" stroke-width="2.8"/>
<circle cx="480.4" cy="295.27" r="2.8" fill="#ff8a00"/>
<line x1="447.8" y1="301.75" x2="525" y2="301.75" stroke="#f9aa55" stroke-width="2.8"/>
<line x1="467.1" y1="301.75" x2="505.7" y2="301.75" stroke="#fc9426" stroke-width="2.8"/>
<circle cx="486.4" cy="301.75" r="2.8" fill="#ff8a00"/>
<line x1="465.4" y1="308.22" x2="475.9" y2="308.22" stroke="#f9aa55" stroke-width="2.8"/>
<line x1="468.7" y1="308.22" x2="473.9" y2="308.22" stroke="#fc9426" stroke-width="2.8"/>
<circle cx="472" cy="308.22" r="2.8" fill="#ff8a00"/>
<line x1="466.7" y1="314.70" x2="487.7" y2="314.70" stroke="#f9aa55" stroke-width="2.8"/>
<line x1="471.9" y1="314.70" x2="482.4" y2="314.70" stroke="#fc9426" stroke-width="2.8"/>
<circle cx="477.2" cy="314.70" r="2.8" fill="#ff8a00"/>
<line x1="473.3" y1="321.17" x2="494.3" y2="321.17" stroke="#f9aa55" stroke-width="2.8"/>
<line x1="478.6" y1="321.17" x2="489.1" y2="321.17" stroke="#fc9426" stroke-width="2.8"/>
<circle cx="483.8" cy="321.17" r="2.8" fill="#ff8a00"/>
<line x1="468" y1="327.65" x2="501.4" y2="327.65" stroke="#f9aa55" stroke-width="2.8"/>
<line x1="476.3" y1="327.65" x2="493.0" y2="327.65" stroke="#fc9426" stroke-width="2.8"/>
<circle cx="484.6" cy="327.65" r="2.8" fill="#ff8a00"/>
<line x1="473.3" y1="334.12" x2="504.8" y2="334.12" stroke="#f9aa55" stroke-width="2.8"/>
<line x1="480.8" y1="334.12" x2="496.6" y2="334.12" stroke="#fc9426" stroke-width="2.8"/>
<circle cx="488.3" cy="334.12" r="2.8" fill="#ff8a00"/>
<line x1="470.6" y1="340.60" x2="474.6" y2="340.60" stroke="#f9aa55" stroke-width="2.8"/>
<line x1="471.6" y1="340.60" x2="473.6" y2="340.60" stroke="#fc9426" stroke-width="2.8"/>
<circle cx="472.5" cy="340.60" r="2.8" fill="#ff8a00"/>
<line x1="477.2" y1="347.07" x2="521.8" y2="347.07" stroke="#f9aa55" stroke-width="2.8"/>
<line x1="488.4" y1="347.07" x2="510.6" y2="347.07" stroke="#fc9426" stroke-width="2.8"/>
<circle cx="499.5" cy="347.07" r="2.8" fill="#ff8a00"/>
<line x1="466.7" y1="353.55" x2="479.3" y2="353.55" stroke="#f9aa55" stroke-width="2.8"/>
<line x1="469.6" y1="353.55" x2="475.9" y2="353.55" stroke="#fc9426" stroke-width="2.8"/>
<circle cx="472.5" cy="353.55" r="2.8" fill="#ff8a00"/>
<line x1="453.6" y1="360.02" x2="504.8" y2="360.02" stroke="#f9aa55" stroke-width="2.8"/>
<line x1="466.5" y1="360.02" x2="492.1" y2="360.02" stroke="#fc9426" stroke-width="2.8"/>
<circle cx="479.3" cy="360.02" r="2.8" fill="#ff8a00"/>
<line x1="462.8" y1="366.50" x2="498.8" y2="366.50" stroke="#f9aa55" stroke-width="2.8"/>
<line x1="472.0" y1="366.50" x2="490.0" y2="366.50" stroke="#fc9426" stroke-width="2.8"/>
<circle cx="481.2" cy="366.50" r="2.8" fill="#ff8a00"/>
<line x1="469.3" y1="372.97" x2="477.2" y2="372.97" stroke="#f9aa55" stroke-width="2.8"/>
<line x1="471.7" y1="372.97" x2="475.6" y2="372.97" stroke="#fc9426" stroke-width="2.8"/>
<circle cx="474.1" cy="372.97" r="2.8" fill="#ff8a00"/>
<line x1="441" y1="379.45" x2="526" y2="379.45" stroke="#f9aa55" stroke-width="2.8"/>
<line x1="461.8" y1="379.45" x2="504.2" y2="379.45" stroke="#fc9426" stroke-width="2.8"/>
<circle cx="482.5" cy="379.45" r="2.8" fill="#ff8a00"/>
<line x1="473.3" y1="385.92" x2="490.4" y2="385.92" stroke="#f9aa55" stroke-width="2.8"/>
<line x1="477.6" y1="385.92" x2="486.1" y2="385.92" stroke="#fc9426" stroke-width="2.8"/>
<circle cx="481.9" cy="385.92" r="2.8" fill="#ff8a00"/>
<line x1="461.4" y1="392.40" x2="479.8" y2="392.40" stroke="#f9aa55" stroke-width="2.8"/>
<line x1="466.0" y1="392.40" x2="475.2" y2="392.40" stroke="#fc9426" stroke-width="2.8"/>
<circle cx="470.6" cy="392.40" r="2.8" fill="#ff8a00"/>
<line x1="468.8" y1="398.87" x2="483.8" y2="398.87" stroke="#f9aa55" stroke-width="2.8"/>
<line x1="473.0" y1="398.87" x2="480.5" y2="398.87" stroke="#fc9426" stroke-width="2.8"/>
<circle cx="477.2" cy="398.87" r="2.8" fill="#ff8a00"/>
<line x1="466.7" y1="405.35" x2="477.7" y2="405.35" stroke="#f9aa55" stroke-width="2.8"/>
<line x1="469.6" y1="405.35" x2="475.1" y2="405.35" stroke="#fc9426" stroke-width="2.8"/>
<circle cx="472.5" cy="405.35" r="2.8" fill="#ff8a00"/>
<line x1="468" y1="411.82" x2="475.9" y2="411.82" stroke="#f9aa55" stroke-width="2.8"/>
<line x1="470.2" y1="411.82" x2="474.2" y2="411.82" stroke="#fc9426" stroke-width="2.8"/>
<circle cx="472.5" cy="411.82" r="2.8" fill="#ff8a00"/>
<line x1="469.3" y1="418.30" x2="476.7" y2="418.30" stroke="#f9aa55" stroke-width="2.8"/>
<line x1="471.3" y1="418.30" x2="475.0" y2="418.30" stroke="#fc9426" stroke-width="2.8"/>
<circle cx="473.3" cy="418.30" r="2.8" fill="#ff8a00"/>
<line x1="468" y1="424.77" x2="494.3" y2="424.77" stroke="#f9aa55" stroke-width="2.8"/>
<line x1="474.6" y1="424.77" x2="487.8" y2="424.77" stroke="#fc9426" stroke-width="2.8"/>
<circle cx="481.2" cy="424.77" r="2.8" fill="#ff8a00"/>
<line x1="472.5" y1="431.25" x2="478.5" y2="431.25" stroke="#f9aa55" stroke-width="2.8"/>
<line x1="473.9" y1="431.25" x2="476.9" y2="431.25" stroke="#fc9426" stroke-width="2.8"/>
<circle cx="475.4" cy="431.25" r="2.8" fill="#ff8a00"/>
<line x1="471.4" y1="437.72" x2="493" y2="437.72" stroke="#f9aa55" stroke-width="2.8"/>
<line x1="477.4" y1="437.72" x2="488.1" y2="437.72" stroke="#fc9426" stroke-width="2.8"/>
<circle cx="483.3" cy="437.72" r="2.8" fill="#ff8a00"/>
<line x1="467.2" y1="444.20" x2="503" y2="444.20" stroke="#f9aa55" stroke-width="2.8"/>
<line x1="476.4" y1="444.20" x2="494.3" y2="444.20" stroke="#fc9426" stroke-width="2.8"/>
<circle cx="485.6" cy="444.20" r="2.8" fill="#ff8a00"/>
<line x1="408.4" y1="450.67" x2="570.8" y2="450.67" stroke="#f9aa55" stroke-width="2.8"/>
<line x1="450.0" y1="450.67" x2="531.2" y2="450.67" stroke="#fc9426" stroke-width="2.8"/>
<circle cx="491.7" cy="450.67" r="2.8" fill="#ff8a00"/>
<line x1="463.6" y1="457.15" x2="472.5" y2="457.15" stroke="#f9aa55" stroke-width="2.8"/>
<line x1="465.8" y1="457.15" x2="470.2" y2="457.15" stroke="#fc9426" stroke-width="2.8"/>
<circle cx="468" cy="457.15" r="2.8" fill="#ff8a00"/>
<line x1="452.3" y1="463.62" x2="510.8" y2="463.62" stroke="#f9aa55" stroke-width="2.8"/>
<line x1="466.5" y1="463.62" x2="495.7" y2="463.62" stroke="#fc9426" stroke-width="2.8"/>
<circle cx="480.6" cy="463.62" r="2.8" fill="#ff8a00"/>
<line x1="468" y1="470.10" x2="503.5" y2="470.10" stroke="#f9aa55" stroke-width="2.8"/>
<line x1="476.9" y1="470.10" x2="494.7" y2="470.10" stroke="#fc9426" stroke-width="2.8"/>
<circle cx="485.9" cy="470.10" r="2.8" fill="#ff8a00"/>
<line x1="462.8" y1="476.57" x2="470.6" y2="476.57" stroke="#f9aa55" stroke-width="2.8"/>
<line x1="464.8" y1="476.57" x2="468.6" y2="476.57" stroke="#fc9426" stroke-width="2.8"/>
<circle cx="466.7" cy="476.57" r="2.8" fill="#ff8a00"/>
<line x1="466" y1="483.05" x2="472" y2="483.05" stroke="#f9aa55" stroke-width="2.8"/>
<line x1="467.5" y1="483.05" x2="470.5" y2="483.05" stroke="#fc9426" stroke-width="2.8"/>
<circle cx="469" cy="483.05" r="2.8" fill="#ff8a00"/>
<line x1="472.5" y1="489.52" x2="488.3" y2="489.52" stroke="#f9aa55" stroke-width="2.8"/>
<line x1="476.4" y1="489.52" x2="484.4" y2="489.52" stroke="#fc9426" stroke-width="2.8"/>
<circle cx="480.4" cy="489.52" r="2.8" fill="#ff8a00"/>
<line x1="466.2" y1="496.00" x2="495.6" y2="496.00" stroke="#f9aa55" stroke-width="2.8"/>
<line x1="473.7" y1="496.00" x2="488.4" y2="496.00" stroke="#fc9426" stroke-width="2.8"/>
<circle cx="481.2" cy="496.00" r="2.8" fill="#ff8a00"/>
<line x1="476" y1="502.47" x2="483" y2="502.47" stroke="#f9aa55" stroke-width="2.8"/>
<line x1="477.9" y1="502.47" x2="481.4" y2="502.47" stroke="#fc9426" stroke-width="2.8"/>
<circle cx="479.8" cy="502.47" r="2.8" fill="#ff8a00"/>
<line x1="450.9" y1="508.95" x2="496.9" y2="508.95" stroke="#f9aa55" stroke-width="2.8"/>
<line x1="462.1" y1="508.95" x2="485.1" y2="508.95" stroke="#fc9426" stroke-width="2.8"/>
<circle cx="473.3" cy="508.95" r="2.8" fill="#ff8a00"/>
<line x1="463.6" y1="515.42" x2="491.7" y2="515.42" stroke="#f9aa55" stroke-width="2.8"/>
<line x1="470.6" y1="515.42" x2="484.7" y2="515.42" stroke="#fc9426" stroke-width="2.8"/>
<circle cx="477.7" cy="515.42" r="2.8" fill="#ff8a00"/>
<line x1="450.4" y1="521.90" x2="619" y2="521.90" stroke="#f9aa55" stroke-width="2.8"/>
<line x1="493.8" y1="521.90" x2="578.0" y2="521.90" stroke="#fc9426" stroke-width="2.8"/>
<circle cx="537.1" cy="521.90" r="2.8" fill="#ff8a00"/>
<line x1="464.1" y1="528.38" x2="505.6" y2="528.38" stroke="#f9aa55" stroke-width="2.8"/>
<line x1="474.4" y1="528.38" x2="495.1" y2="528.38" stroke="#fc9426" stroke-width="2.8"/>
<circle cx="484.6" cy="528.38" r="2.8" fill="#ff8a00"/>
<line x1="469.3" y1="534.85" x2="486.4" y2="534.85" stroke="#f9aa55" stroke-width="2.8"/>
<line x1="473.5" y1="534.85" x2="482.0" y2="534.85" stroke="#fc9426" stroke-width="2.8"/>
<circle cx="477.7" cy="534.85" r="2.8" fill="#ff8a00"/>
<line x1="470.6" y1="541.32" x2="490.4" y2="541.32" stroke="#f9aa55" stroke-width="2.8"/>
<line x1="475.9" y1="541.32" x2="485.8" y2="541.32" stroke="#fc9426" stroke-width="2.8"/>
<circle cx="481.2" cy="541.32" r="2.8" fill="#ff8a00"/>
<line x1="469.3" y1="547.80" x2="477.2" y2="547.80" stroke="#f9aa55" stroke-width="2.8"/>
<line x1="470.6" y1="547.80" x2="474.6" y2="547.80" stroke="#fc9426" stroke-width="2.8"/>
<circle cx="472" cy="547.80" r="2.8" fill="#ff8a00"/>
<line x1="477.7" y1="554.27" x2="486.4" y2="554.27" stroke="#f9aa55" stroke-width="2.8"/>
<line x1="480.1" y1="554.27" x2="484.4" y2="554.27" stroke="#fc9426" stroke-width="2.8"/>
<circle cx="482.5" cy="554.27" r="2.8" fill="#ff8a00"/>
<line x1="457.5" y1="560.75" x2="477.7" y2="560.75" stroke="#f9aa55" stroke-width="2.8"/>
<line x1="462.8" y1="560.75" x2="472.9" y2="560.75" stroke="#fc9426" stroke-width="2.8"/>
<circle cx="468" cy="560.75" r="2.8" fill="#ff8a00"/>
<line x1="470" y1="567.22" x2="476" y2="567.22" stroke="#f9aa55" stroke-width="2.8"/>
<line x1="471.6" y1="567.22" x2="474.6" y2="567.22" stroke="#fc9426" stroke-width="2.8"/>
<circle cx="473.3" cy="567.22" r="2.8" fill="#ff8a00"/>
<line x1="464" y1="573.70" x2="470.6" y2="573.70" stroke="#f9aa55" stroke-width="2.8"/>
<line x1="466.0" y1="573.70" x2="469.3" y2="573.70" stroke="#fc9426" stroke-width="2.8"/>
<circle cx="468" cy="573.70" r="2.8" fill="#ff8a00"/>
<line x1="467.2" y1="580.17" x2="491.7" y2="580.17" stroke="#f9aa55" stroke-width="2.8"/>
<line x1="473.5" y1="580.17" x2="485.8" y2="580.17" stroke="#fc9426" stroke-width="2.8"/>
<circle cx="479.8" cy="580.17" r="2.8" fill="#ff8a00"/>
<line x1="473.3" y1="586.65" x2="486.4" y2="586.65" stroke="#f9aa55" stroke-width="2.8"/>
<line x1="476.6" y1="586.65" x2="483.1" y2="586.65" stroke="#fc9426" stroke-width="2.8"/>
<circle cx="479.8" cy="586.65" r="2.8" fill="#ff8a00"/>
<line x1="463.6" y1="593.12" x2="481.2" y2="593.12" stroke="#f9aa55" stroke-width="2.8"/>
<line x1="467.5" y1="593.12" x2="476.3" y2="593.12" stroke="#fc9426" stroke-width="2.8"/>
<circle cx="471.4" cy="593.12" r="2.8" fill="#ff8a00"/>
<line x1="473.3" y1="599.60" x2="490.4" y2="599.60" stroke="#f9aa55" stroke-width="2.8"/>
<line x1="477.6" y1="599.60" x2="486.1" y2="599.60" stroke="#fc9426" stroke-width="2.8"/>
<circle cx="481.9" cy="599.60" r="2.8" fill="#ff8a00"/>
<line x1="472" y1="606.07" x2="490.9" y2="606.07" stroke="#f9aa55" stroke-width="2.8"/>
<line x1="476.6" y1="606.07" x2="486.0" y2="606.07" stroke="#fc9426" stroke-width="2.8"/>
<circle cx="481.2" cy="606.07" r="2.8" fill="#ff8a00"/>
<line x1="466.2" y1="612.55" x2="474.6" y2="612.55" stroke="#f9aa55" stroke-width="2.8"/>
<line x1="468.4" y1="612.55" x2="472.6" y2="612.55" stroke="#fc9426" stroke-width="2.8"/>
<circle cx="470.6" cy="612.55" r="2.8" fill="#ff8a00"/>
<line x1="474.6" y1="619.02" x2="484.6" y2="619.02" stroke="#f9aa55" stroke-width="2.8"/>
<line x1="477.0" y1="619.02" x2="482.0" y2="619.02" stroke="#fc9426" stroke-width="2.8"/>
<circle cx="479.3" cy="619.02" r="2.8" fill="#ff8a00"/>
<line x1="469.3" y1="625.50" x2="487.7" y2="625.50" stroke="#f9aa55" stroke-width="2.8"/>
<line x1="473.6" y1="625.50" x2="482.9" y2="625.50" stroke="#fc9426" stroke-width="2.8"/>
<circle cx="478" cy="625.50" r="2.8" fill="#ff8a00"/>
<line x1="469.3" y1="631.97" x2="495.1" y2="631.97" stroke="#f9aa55" stroke-width="2.8"/>
<line x1="475.9" y1="631.97" x2="488.8" y2="631.97" stroke="#fc9426" stroke-width="2.8"/>
<circle cx="482.5" cy="631.97" r="2.8" fill="#ff8a00"/>
<line x1="445.7" y1="638.45" x2="494.3" y2="638.45" stroke="#f9aa55" stroke-width="2.8"/>
<line x1="457.5" y1="638.45" x2="481.8" y2="638.45" stroke="#fc9426" stroke-width="2.8"/>
<circle cx="469.3" cy="638.45" r="2.8" fill="#ff8a00"/>
<line x1="469.3" y1="644.92" x2="479.8" y2="644.92" stroke="#f9aa55" stroke-width="2.8"/>
<line x1="472.0" y1="644.92" x2="477.2" y2="644.92" stroke="#fc9426" stroke-width="2.8"/>
<circle cx="474.6" cy="644.92" r="2.8" fill="#ff8a00"/>
<circle cx="483" cy="3.90" r="2.85" fill="#1f88ee"/>
<circle cx="479" cy="10.38" r="2.85" fill="#1f88ee"/>
<circle cx="443.6" cy="16.85" r="2.85" fill="#1f88ee"/>
<circle cx="530.3" cy="23.32" r="2.85" fill="#1f88ee"/>
<circle cx="510.8" cy="29.80" r="2.85" fill="#1f88ee"/>
<circle cx="459.6" cy="36.27" r="2.85" fill="#1f88ee"/>
<circle cx="472" cy="42.75" r="2.85" fill="#1f88ee"/>
<circle cx="399.7" cy="49.22" r="2.85" fill="#1f88ee"/>
<circle cx="456.2" cy="55.70" r="2.85" fill="#1f88ee"/>
<circle cx="443.8" cy="62.17" r="2.85" fill="#1f88ee"/>
<circle cx="449.1" cy="68.65" r="2.85" fill="#1f88ee"/>
<circle cx="460.1" cy="75.12" r="2.85" fill="#1f88ee"/>
<circle cx="472.7" cy="81.60" r="2.85" fill="#1f88ee"/>
<circle cx="436.5" cy="88.08" r="2.85" fill="#1f88ee"/>
<circle cx="426.5" cy="94.55" r="2.85" fill="#1f88ee"/>
<circle cx="453.6" cy="101.03" r="2.85" fill="#1f88ee"/>
<circle cx="493.8" cy="107.50" r="2.85" fill="#1f88ee"/>
<circle cx="479.8" cy="113.97" r="2.85" fill="#1f88ee"/>
<circle cx="445.7" cy="120.45" r="2.85" fill="#1f88ee"/>
<circle cx="470.6" cy="126.92" r="2.85" fill="#1f88ee"/>
<circle cx="430.7" cy="133.40" r="2.85" fill="#1f88ee"/>
<circle cx="473.3" cy="139.88" r="2.85" fill="#1f88ee"/>
<circle cx="478.5" cy="146.35" r="2.85" fill="#1f88ee"/>
<circle cx="462" cy="152.82" r="2.85" fill="#1f88ee"/>
<circle cx="467.5" cy="159.30" r="2.85" fill="#1f88ee"/>
<circle cx="483.8" cy="165.78" r="2.85" fill="#1f88ee"/>
<circle cx="475.9" cy="172.25" r="2.85" fill="#1f88ee"/>
<circle cx="469.9" cy="178.72" r="2.85" fill="#1f88ee"/>
<circle cx="442.5" cy="185.20" r="2.85" fill="#1f88ee"/>
<circle cx="490.9" cy="191.67" r="2.85" fill="#1f88ee"/>
<circle cx="466.7" cy="198.15" r="2.85" fill="#1f88ee"/>
<circle cx="455.7" cy="204.62" r="2.85" fill="#1f88ee"/>
<circle cx="423.9" cy="211.10" r="2.85" fill="#1f88ee"/>
<circle cx="439.9" cy="217.57" r="2.85" fill="#1f88ee"/>
<circle cx="486.4" cy="224.05" r="2.85" fill="#1f88ee"/>
<circle cx="450.4" cy="230.53" r="2.85" fill="#1f88ee"/>
<circle cx="384.5" cy="237.00" r="2.85" fill="#1f88ee"/>
<circle cx="439.1" cy="243.47" r="2.85" fill="#1f88ee"/>
<circle cx="489" cy="249.95" r="2.85" fill="#1f88ee"/>
<circle cx="447.8" cy="256.42" r="2.85" fill="#1f88ee"/>
<circle cx="452.3" cy="262.90" r="2.85" fill="#1f88ee"/>
<circle cx="445.7" cy="269.37" r="2.85" fill="#1f88ee"/>
<circle cx="423.9" cy="275.85" r="2.85" fill="#1f88ee"/>
<circle cx="456.7" cy="282.32" r="2.85" fill="#1f88ee"/>
<circle cx="439.1" cy="288.80" r="2.85" fill="#1f88ee"/>
<circle cx="457" cy="295.27" r="2.85" fill="#1f88ee"/>
<circle cx="427.8" cy="301.75" r="2.85" fill="#1f88ee"/>
<circle cx="469.3" cy="308.22" r="2.85" fill="#1f88ee"/>
<circle cx="433.9" cy="314.70" r="2.85" fill="#1f88ee"/>
<circle cx="451.7" cy="321.17" r="2.85" fill="#1f88ee"/>
<circle cx="516.8" cy="327.65" r="2.85" fill="#1f88ee"/>
<circle cx="439.1" cy="334.12" r="2.85" fill="#1f88ee"/>
<circle cx="447" cy="340.60" r="2.85" fill="#1f88ee"/>
<circle cx="550.2" cy="347.07" r="2.85" fill="#1f88ee"/>
<circle cx="441" cy="353.55" r="2.85" fill="#1f88ee"/>
<circle cx="452.3" cy="360.02" r="2.85" fill="#1f88ee"/>
<circle cx="459.6" cy="366.50" r="2.85" fill="#1f88ee"/>
<circle cx="477.7" cy="372.97" r="2.85" fill="#1f88ee"/>
<circle cx="436.5" cy="379.45" r="2.85" fill="#1f88ee"/>
<circle cx="448.8" cy="385.92" r="2.85" fill="#1f88ee"/>
<circle cx="441.7" cy="392.40" r="2.85" fill="#1f88ee"/>
<circle cx="441.7" cy="398.87" r="2.85" fill="#1f88ee"/>
<circle cx="474.6" cy="405.35" r="2.85" fill="#1f88ee"/>
<circle cx="477.2" cy="411.82" r="2.85" fill="#1f88ee"/>
<circle cx="444.9" cy="418.30" r="2.85" fill="#1f88ee"/>
<circle cx="434.4" cy="424.77" r="2.85" fill="#1f88ee"/>
<circle cx="441.2" cy="431.25" r="2.85" fill="#1f88ee"/>
<circle cx="428.6" cy="437.72" r="2.85" fill="#1f88ee"/>
<circle cx="456.7" cy="444.20" r="2.85" fill="#1f88ee"/>
<circle cx="477.2" cy="450.67" r="2.85" fill="#1f88ee"/>
<circle cx="468" cy="457.15" r="2.85" fill="#1f88ee"/>
<circle cx="464.1" cy="463.62" r="2.85" fill="#1f88ee"/>
<circle cx="429.9" cy="470.10" r="2.85" fill="#1f88ee"/>
<circle cx="414.2" cy="476.57" r="2.85" fill="#1f88ee"/>
<circle cx="469.9" cy="483.05" r="2.85" fill="#1f88ee"/>
<circle cx="454.9" cy="489.52" r="2.85" fill="#1f88ee"/>
<circle cx="460.9" cy="496.00" r="2.85" fill="#1f88ee"/>
<circle cx="464.6" cy="502.47" r="2.85" fill="#1f88ee"/>
<circle cx="450.9" cy="508.95" r="2.85" fill="#1f88ee"/>
<circle cx="418.9" cy="515.42" r="2.85" fill="#1f88ee"/>
<circle cx="670.7" cy="521.90" r="2.85" fill="#1f88ee"/>
<circle cx="468.5" cy="528.38" r="2.85" fill="#1f88ee"/>
<circle cx="435.7" cy="534.85" r="2.85" fill="#1f88ee"/>
<circle cx="438.3" cy="541.32" r="2.85" fill="#1f88ee"/>
<circle cx="475.9" cy="547.80" r="2.85" fill="#1f88ee"/>
<circle cx="386.6" cy="554.27" r="2.85" fill="#1f88ee"/>
<circle cx="437.8" cy="560.75" r="2.85" fill="#1f88ee"/>
<circle cx="460.9" cy="567.22" r="2.85" fill="#1f88ee"/>
<circle cx="464.6" cy="573.70" r="2.85" fill="#1f88ee"/>
<circle cx="443.6" cy="580.17" r="2.85" fill="#1f88ee"/>
<circle cx="462.8" cy="586.65" r="2.85" fill="#1f88ee"/>
<circle cx="449.6" cy="593.12" r="2.85" fill="#1f88ee"/>
<circle cx="463.6" cy="599.60" r="2.85" fill="#1f88ee"/>
<circle cx="432.5" cy="606.07" r="2.85" fill="#1f88ee"/>
<circle cx="448.3" cy="612.55" r="2.85" fill="#1f88ee"/>
<circle cx="458.8" cy="619.02" r="2.85" fill="#1f88ee"/>
<circle cx="455.7" cy="625.50" r="2.85" fill="#1f88ee"/>
<circle cx="432.5" cy="631.97" r="2.85" fill="#1f88ee"/>
<circle cx="463.6" cy="638.45" r="2.85" fill="#1f88ee"/>
<circle cx="445.7" cy="644.92" r="2.85" fill="#1f88ee"/>
<line x1="463" y1="647.8" x2="463" y2="650.5" stroke="#8a8a8a" stroke-width="1.2"/>
<line x1="567" y1="647.8" x2="567" y2="650.5" stroke="#8a8a8a" stroke-width="1.2"/>
<line x1="670.7" y1="647.8" x2="670.7" y2="650.5" stroke="#8a8a8a" stroke-width="1.2"/>
<g filter="url(#gs)">
<text x="0" y="3.04" font-size="8.5" text-anchor="start" transform="translate(222.00 50.36) scale(1 0.93)" style="fill:#000;stroke:#e2e2e2;stroke-width:1.15px;paint-order:stroke" >100 actual genres</text>
<text x="0" y="3.04" font-size="8.5" text-anchor="start" transform="translate(222.00 67.36) scale(1 0.93)" style="fill:#000;stroke:#e2e2e2;stroke-width:1.15px;paint-order:stroke" >mixed genre samples</text>
<text x="0" y="3.08" font-size="8.6" text-anchor="end" transform="translate(27.30 3.62) scale(1 0.93)" style="fill:#000;stroke:#e2e2e2;stroke-width:1.15px;paint-order:stroke" >100</text>
<text x="0" y="3.08" font-size="8.6" text-anchor="end" transform="translate(27.30 46.87) scale(1 0.93)" style="fill:#000;stroke:#e2e2e2;stroke-width:1.15px;paint-order:stroke" >75</text>
<text x="0" y="3.08" font-size="8.6" text-anchor="end" transform="translate(27.30 90.12) scale(1 0.93)" style="fill:#000;stroke:#e2e2e2;stroke-width:1.15px;paint-order:stroke" >50</text>
<text x="0" y="3.08" font-size="8.6" text-anchor="end" transform="translate(27.30 133.37) scale(1 0.93)" style="fill:#000;stroke:#e2e2e2;stroke-width:1.15px;paint-order:stroke" >25</text>
<text x="0" y="3.08" font-size="8.6" text-anchor="end" transform="translate(27.30 176.62) scale(1 0.93)" style="fill:#000;stroke:#e2e2e2;stroke-width:1.15px;paint-order:stroke" >0</text>
<text x="0" y="3.08" font-size="8.6" text-anchor="middle" transform="translate(52.80 192.52) scale(1 0.93)" style="fill:#000;stroke:#e2e2e2;stroke-width:1.15px;paint-order:stroke" >-0.05</text>
<text x="0" y="3.08" font-size="8.6" text-anchor="middle" transform="translate(134.30 192.52) scale(1 0.93)" style="fill:#000;stroke:#e2e2e2;stroke-width:1.15px;paint-order:stroke" >0.00</text>
<text x="0" y="3.08" font-size="8.6" text-anchor="middle" transform="translate(215.90 192.52) scale(1 0.93)" style="fill:#000;stroke:#e2e2e2;stroke-width:1.15px;paint-order:stroke" >0.05</text>
<text x="0" y="3.08" font-size="8.6" text-anchor="middle" transform="translate(297.40 192.52) scale(1 0.93)" style="fill:#000;stroke:#e2e2e2;stroke-width:1.15px;paint-order:stroke" >0.10</text>
<text x="0" y="3.79" font-size="10.6" text-anchor="middle" transform="translate(184.70 203.91) scale(1 0.96)" style="fill:#000;stroke:#e2e2e2;stroke-width:1.15px;paint-order:stroke" >Relationship between date of release</text>
<text x="0" y="3.79" font-size="10.6" text-anchor="middle" transform="translate(184.70 216.51) scale(1 0.96)" style="fill:#000;stroke:#e2e2e2;stroke-width:1.15px;paint-order:stroke" >and total playcount</text>
<text x="8.30" y="92.50" font-size="11" text-anchor="middle" style="fill:#000;stroke:#e2e2e2;stroke-width:1.15px;paint-order:stroke" transform="rotate(-90 8.3 92.5)">Density</text>
<text x="0" y="0" font-size="22" transform="translate(320.1 22.9) scale(0.92 1)" style="fill:#000;stroke:#e6e6e6;stroke-width:2.0px;paint-order:stroke">A</text>
<text x="0" y="3.04" font-size="8.5" text-anchor="end" transform="translate(85.60 270.66) scale(1 0.93)" style="fill:#000;stroke:#e2e2e2;stroke-width:1.15px;paint-order:stroke" >Funk ostentação</text>
<text x="0" y="3.04" font-size="8.5" text-anchor="end" transform="translate(85.60 309.96) scale(1 0.93)" style="fill:#000;stroke:#e2e2e2;stroke-width:1.15px;paint-order:stroke" >Chillwave</text>
<text x="0" y="3.04" font-size="8.5" text-anchor="end" transform="translate(85.60 349.26) scale(1 0.93)" style="fill:#000;stroke:#e2e2e2;stroke-width:1.15px;paint-order:stroke" >Drill</text>
<text x="0" y="3.04" font-size="8.5" text-anchor="end" transform="translate(85.60 388.56) scale(1 0.93)" style="fill:#000;stroke:#e2e2e2;stroke-width:1.15px;paint-order:stroke" >Future bass</text>
<text x="0" y="3.04" font-size="8.5" text-anchor="end" transform="translate(85.60 427.86) scale(1 0.93)" style="fill:#000;stroke:#e2e2e2;stroke-width:1.15px;paint-order:stroke" >Emo rap</text>
<text x="0" y="3.04" font-size="8.5" text-anchor="end" transform="translate(85.60 467.16) scale(1 0.93)" style="fill:#000;stroke:#e2e2e2;stroke-width:1.15px;paint-order:stroke" >Blackgaze</text>
<text x="0" y="3.04" font-size="8.5" text-anchor="end" transform="translate(85.60 506.46) scale(1 0.93)" style="fill:#000;stroke:#e2e2e2;stroke-width:1.15px;paint-order:stroke" >Deconstructed club</text>
<text x="0" y="3.04" font-size="8.5" text-anchor="end" transform="translate(85.60 545.76) scale(1 0.93)" style="fill:#000;stroke:#e2e2e2;stroke-width:1.15px;paint-order:stroke" >Gqom</text>
<text x="0" y="3.04" font-size="8.5" text-anchor="end" transform="translate(85.60 585.06) scale(1 0.93)" style="fill:#000;stroke:#e2e2e2;stroke-width:1.15px;paint-order:stroke" >Grime</text>
<text x="0" y="3.04" font-size="8.5" text-anchor="end" transform="translate(85.60 624.36) scale(1 0.93)" style="fill:#000;stroke:#e2e2e2;stroke-width:1.15px;paint-order:stroke" >Gengetone</text>
<text x="0" y="3.08" font-size="8.6" text-anchor="middle" transform="translate(102.90 656.32) scale(1 0.93)" style="fill:#000;stroke:#e2e2e2;stroke-width:1.15px;paint-order:stroke" >-0.050</text>
<text x="0" y="3.08" font-size="8.6" text-anchor="middle" transform="translate(157.00 656.32) scale(1 0.93)" style="fill:#000;stroke:#e2e2e2;stroke-width:1.15px;paint-order:stroke" >-0.025</text>
<text x="0" y="3.08" font-size="8.6" text-anchor="middle" transform="translate(211.10 656.32) scale(1 0.93)" style="fill:#000;stroke:#e2e2e2;stroke-width:1.15px;paint-order:stroke" >0.000</text>
<text x="0" y="3.08" font-size="8.6" text-anchor="middle" transform="translate(265.20 656.32) scale(1 0.93)" style="fill:#000;stroke:#e2e2e2;stroke-width:1.15px;paint-order:stroke" >0.025</text>
<text x="0" y="3.08" font-size="8.6" text-anchor="middle" transform="translate(319.30 656.32) scale(1 0.93)" style="fill:#000;stroke:#e2e2e2;stroke-width:1.15px;paint-order:stroke" >0.050</text>
<text x="0" y="3.79" font-size="10.6" text-anchor="middle" transform="translate(217.30 667.21) scale(1 0.96)" style="fill:#000;stroke:#e2e2e2;stroke-width:1.15px;paint-order:stroke" >Relationship between date of release</text>
<text x="0" y="3.79" font-size="10.6" text-anchor="middle" transform="translate(217.30 679.01) scale(1 0.96)" style="fill:#000;stroke:#e2e2e2;stroke-width:1.15px;paint-order:stroke" >and total playcount</text>
<text x="0" y="0" font-size="20.2" transform="translate(320.8 246.0) scale(0.88 1)" style="fill:#000;stroke:#e6e6e6;stroke-width:2.2px;paint-order:stroke">B</text>
<text x="0" y="3.08" font-size="8.6" text-anchor="middle" transform="translate(463.00 656.52) scale(1 0.93)" style="fill:#000;stroke:#e2e2e2;stroke-width:1.15px;paint-order:stroke" >0.00</text>
<text x="0" y="3.08" font-size="8.6" text-anchor="middle" transform="translate(567.00 656.52) scale(1 0.93)" style="fill:#000;stroke:#e2e2e2;stroke-width:1.15px;paint-order:stroke" >0.05</text>
<text x="0" y="3.08" font-size="8.6" text-anchor="middle" transform="translate(670.70 656.52) scale(1 0.93)" style="fill:#000;stroke:#e2e2e2;stroke-width:1.15px;paint-order:stroke" >0.10</text>
<text x="0" y="3.79" font-size="10.6" text-anchor="middle" transform="translate(526.40 667.21) scale(1 0.96)" style="fill:#000;stroke:#e2e2e2;stroke-width:1.15px;paint-order:stroke" >Relationship between date of release</text>
<text x="0" y="3.79" font-size="10.6" text-anchor="middle" transform="translate(526.40 679.01) scale(1 0.96)" style="fill:#000;stroke:#e2e2e2;stroke-width:1.15px;paint-order:stroke" >and total playcount</text>
<text x="0" y="0" font-size="22" transform="translate(646.6 22.6) scale(0.85 1)" style="fill:#000;stroke:#e6e6e6;stroke-width:2.3px;paint-order:stroke">C</text>
</g>
</svg>
</body></html>
